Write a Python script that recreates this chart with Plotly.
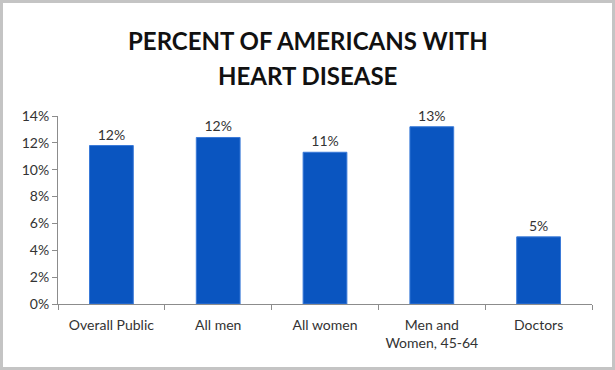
import plotly.graph_objects as go

categories = ["Overall Public", "All men", "All women", "Men and<br>Women, 45-64", "Doctors"]
values = [11.8, 12.4, 11.3, 13.2, 5.0]
labels = ["12%", "12%", "11%", "13%", "5%"]
y_ticks = [0, 2, 4, 6, 8, 10, 12, 14]
y_tick_text = [f"{v}%" for v in y_ticks]
title_lines = ["PERCENT OF AMERICANS WITH", "HEART DISEASE"]

W, H = 615, 370
ml, mr, mt, mb = 58, 23, 116, 66
pw, ph = W - ml - mr, H - mt - mb

fig = go.Figure(go.Bar(
    x=categories, y=values, text=labels, textposition="outside",
    textfont=dict(size=14, color="#333333"),
    marker=dict(color="#0a55c0", line=dict(color="#3a7ad8", width=1)),
    cliponaxis=False,
))

title_px = [40, 75]
annotations = [
    dict(text=f"<b>{t}</b>", xref="paper", yref="paper", x=(W / 2 - ml) / pw,
         y=(H - mb - py) / ph, xanchor="center", yanchor="middle", showarrow=False,
         font=dict(size=24, color="#111111", family="Lato, Carlito, sans-serif"))
    for t, py in zip(title_lines, title_px)
]

fig.update_layout(
    width=W, height=H,
    margin=dict(l=ml, r=mr, t=mt, b=mb),
    paper_bgcolor="white", plot_bgcolor="white",
    font=dict(family="Lato, Carlito, Calibri, sans-serif", color="#333333", size=14),
    bargap=0.59,
    showlegend=False,
    annotations=annotations,
    xaxis=dict(showline=True, linecolor="#8c8c8c", linewidth=1, ticks="outside",
               tickson="boundaries", ticklen=5, tickcolor="#8c8c8c",
               ticklabelstandoff=8,
               tickfont=dict(size=14, color="#333333"), showgrid=False),
    yaxis=dict(range=[0, 14], tickmode="array", tickvals=y_ticks, ticktext=y_tick_text,
               showline=True, linecolor="#8c8c8c", linewidth=1, ticks="outside", ticklen=5,
               tickcolor="#8c8c8c", showgrid=False, zeroline=False,
               tickfont=dict(size=14, color="#333333")),
    shapes=[dict(type="rect", xref="paper", yref="paper",
                 x0=-ml / pw, x1=1 + mr / pw, y0=-mb / ph, y1=1 + mt / ph,
                 line=dict(color="#c4c4c4", width=6), fillcolor="rgba(0,0,0,0)")],
)

fig.write_html("out.html", config={"displayModeBar": False},
               post_script="document.body.style.margin='0';")
